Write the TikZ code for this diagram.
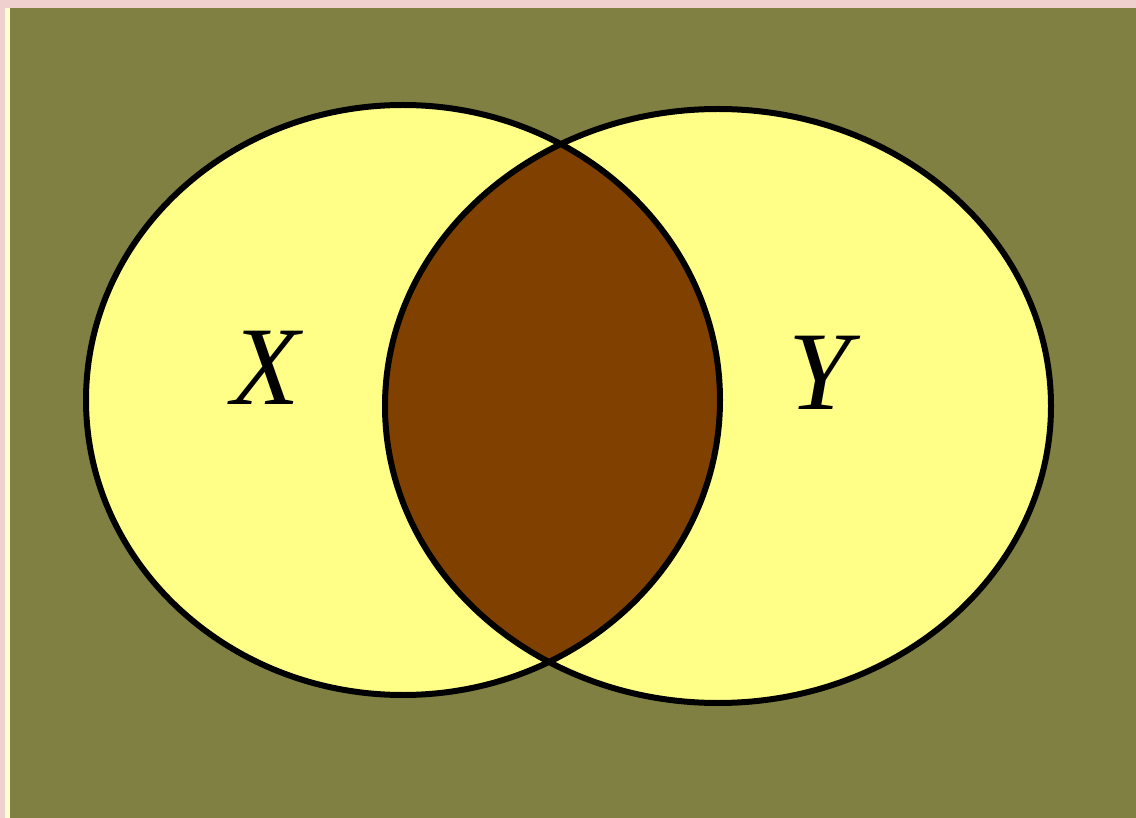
\documentclass[tikz,border=0pt]{standalone}
\usepackage{fontspec}
\setmainfont{Liberation Serif}
\definecolor{pinkbg}{HTML}{EFD0CE}
\definecolor{olive}{HTML}{808042}
\definecolor{creamline}{HTML}{FFFFD0}
\definecolor{lightyellow}{HTML}{FFFF88}
\definecolor{lensbrown}{HTML}{804000}
\begin{document}
\begin{tikzpicture}[x=1pt,y=-1pt,
  setlabel/.style={font=\fontsize{112}{112}\selectfont\itshape, text=black, inner sep=0pt},
  outline/.style={draw=black, line width=6pt}]
\useasboundingbox (0,0) rectangle (1136,818);
% background and frame
\fill[pinkbg] (0,0) rectangle (1136,818);
\fill[creamline] (5,8) rectangle (10,818);
\fill[olive] (10,8) rectangle (1136,818);
% sets
\fill[lightyellow] (403,400) ellipse [x radius=317, y radius=295];
\fill[lightyellow] (718,406) ellipse [x radius=333, y radius=297];
\begin{scope}
  \clip (403,400) ellipse [x radius=317, y radius=295];
  \fill[lensbrown] (718,406) ellipse [x radius=333, y radius=297];
\end{scope}
\draw[outline] (403,400) ellipse [x radius=317, y radius=295];
\draw[outline] (718,406) ellipse [x radius=333, y radius=297];
% labels
\node[setlabel] (labelX) at (266,368) {X};
\node[setlabel] (labelY) at (820,373) {Y};
\end{tikzpicture}
\end{document}
